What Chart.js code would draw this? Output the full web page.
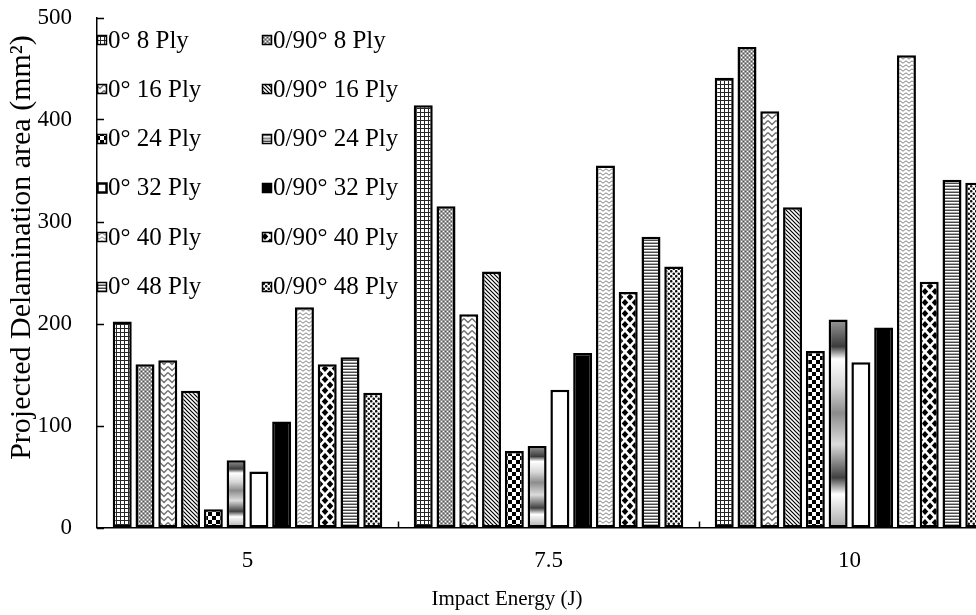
<!DOCTYPE html>
<html>
<head>
<meta charset="utf-8">
<title>Projected Delamination area vs Impact Energy</title>
<script src="https://cdn.jsdelivr.net/npm/chart.js@4.4.0/dist/chart.umd.min.js"></script>
<style>
  html, body { margin: 0; padding: 0; background: #fff; overflow: hidden; }
  #wrap { position: relative; width: 1004px; height: 615px; }
</style>
</head>
<body>
<div id="wrap"><canvas id="chart"></canvas></div>
<script>
'use strict';

// ── data ────────────────────────────────────────────────────────────────────
const energies = ['5', '7.5', '10'];

const seriesLabels = [
  '0° 8 Ply',  '0/90° 8 Ply',
  '0° 16 Ply', '0/90° 16 Ply',
  '0° 24 Ply', '0/90° 24 Ply',
  '0° 32 Ply', '0/90° 32 Ply',
  '0° 40 Ply', '0/90° 40 Ply',
  '0° 48 Ply', '0/90° 48 Ply',
];

// projected delamination area (mm²) at 5 / 7.5 / 10 J
const uni8     = [202, 414, 441];
const cross8   = [160, 315, 471];
const uni16    = [164, 209, 408];
const cross16  = [134, 251, 314];
const uni24    = [18, 75, 173];
const cross24  = [66, 80, 204];
const uni32    = [55, 135, 162];
const cross32  = [104, 171, 196];
const uni40    = [216, 355, 463];
const cross40  = [160, 231, 241];
const uni48    = [167, 285, 341];
const cross48  = [132, 256, 338];

const seriesValues = [uni8, cross8, uni16, cross16, uni24, cross24,
                      uni32, cross32, uni40, cross40, uni48, cross48];

const yTicks = { min: 0, max: 500, step: 100 };
const yTitle = 'Projected Delamination area (mm²)';
const xTitle = 'Impact Energy (J)';

// ── fill patterns (monochrome, Excel style) ────────────────────────────────
const canvas = document.getElementById('chart');
const c2d = canvas.getContext('2d');

function makePattern(w, h, draw) {
  const t = document.createElement('canvas');
  t.width = w; t.height = h;
  const g = t.getContext('2d');
  g.fillStyle = '#fff';
  g.fillRect(0, 0, w, h);
  draw(g);
  return c2d.createPattern(t, 'repeat');
}

const patGrid = makePattern(4, 4, g => {
  g.fillStyle = '#262626';
  g.fillRect(0, 0, 4, 1);
  g.fillRect(0, 0, 1, 4);
});

const patGray = makePattern(4, 4, g => {
  g.fillStyle = '#9c9c9c';
  g.fillRect(0, 0, 4, 4);
  g.fillStyle = '#fff';
  g.fillRect(1, 1, 1, 1); g.fillRect(3, 3, 1, 1);
  g.fillStyle = '#555';
  g.fillRect(1, 3, 1, 1); g.fillRect(3, 1, 1, 1);
});

const patZig = makePattern(8, 6, g => {
  g.strokeStyle = '#707070';
  g.lineWidth = 1.4;
  g.beginPath();
  g.moveTo(0, 0.5); g.lineTo(4, 4.5); g.lineTo(8, 0.5);
  g.stroke();
});

const patDiag = makePattern(4, 4, g => {
  g.strokeStyle = '#000';
  g.lineWidth = 1.2;
  g.beginPath();
  g.moveTo(-1, -1); g.lineTo(5, 5);
  g.moveTo(-1, 3); g.lineTo(1, 5);
  g.moveTo(3, -1); g.lineTo(5, 1);
  g.stroke();
});

const patChecker = makePattern(8, 8, g => {
  g.fillStyle = '#000';
  g.fillRect(0, 0, 4, 4);
  g.fillRect(4, 4, 4, 4);
});

const patWave = makePattern(6, 4, g => {
  g.strokeStyle = '#808080';
  g.lineWidth = 1;
  g.beginPath();
  g.moveTo(0, 0.8); g.lineTo(3, 3.2); g.lineTo(6, 0.8);
  g.stroke();
});

const patDiamond = makePattern(10, 11, g => {
  g.fillStyle = '#000';
  const dia = (cx, cy) => {
    g.beginPath();
    g.moveTo(cx, cy - 3.6); g.lineTo(cx + 3.3, cy);
    g.lineTo(cx, cy + 3.6); g.lineTo(cx - 3.3, cy);
    g.closePath(); g.fill();
  };
  dia(5, 5.5);
  dia(0, 0); dia(10, 0); dia(0, 11); dia(10, 11);
});

const patHLines = makePattern(1, 3, g => {
  g.fillStyle = '#4a4a4a';
  g.fillRect(0, 0, 1, 1);
  g.fillStyle = '#aaa';
  g.fillRect(0, 2, 1, 1);
});

const patDots = makePattern(5, 5, g => {
  g.fillStyle = '#111';
  g.beginPath();
  g.arc(1.25, 1.25, 1.3, 0, Math.PI * 2);
  g.arc(3.75, 3.75, 1.3, 0, Math.PI * 2);
  g.fill();
});

// banded metallic gradient, stretched over the height of each bar
const bandStops = [
  [0, '#9a9a9a'], [0.13, '#3c3c3c'], [0.19, '#ffffff'], [0.32, '#d8d8d8'],
  [0.45, '#8c8c8c'], [0.6, '#dcdcdc'], [0.76, '#404040'], [0.84, '#ffffff'],
  [1, '#a8a8a8'],
];
function bandGradient(ctx, top, bottom) {
  const gr = ctx.createLinearGradient(0, top, 0, bottom);
  bandStops.forEach(([o, c]) => gr.addColorStop(o, c));
  return gr;
}
function barGradient(context) {
  const chart = context.chart;
  if (!chart.chartArea || context.raw == null) return '#999';
  const y = chart.scales.y;
  return bandGradient(chart.ctx, y.getPixelForValue(context.raw), y.getPixelForValue(0));
}

const fills = [patGrid, patGray, patZig, patDiag, patChecker, barGradient,
               '#fff', '#000', patWave, patDiamond, patHLines, patDots];

const serif = '"Liberation Serif", "Times New Roman", serif';

// ── plugins: inside tick marks, axis titles, two-column legend ─────────────
const insideTicks = {
  id: 'insideTicks',
  afterDatasetsDraw(chart) {
    const { ctx, chartArea, scales: { x, y } } = chart;
    ctx.save();
    ctx.strokeStyle = '#000';
    ctx.lineWidth = 1.5;
    ctx.beginPath();
    y.ticks.forEach((t, i) => {
      const py = Math.round(y.getPixelForTick(i)) + 0.5;
      ctx.moveTo(chartArea.left, py);
      ctx.lineTo(chartArea.left + 7, py);
    });
    for (let i = 1; i < x.ticks.length; i++) {
      const px = Math.round((x.getPixelForTick(i - 1) + x.getPixelForTick(i)) / 2) + 0.5;
      ctx.moveTo(px, chartArea.bottom);
      ctx.lineTo(px, chartArea.bottom - 6);
    }
    ctx.stroke();
    ctx.restore();
  },
};

const axisTitles = {
  id: 'axisTitles',
  afterDraw(chart) {
    const { ctx, chartArea } = chart;
    ctx.save();
    ctx.fillStyle = '#000';
    ctx.textAlign = 'center';
    ctx.textBaseline = 'middle';

    ctx.font = '21px ' + serif;
    ctx.fillText(xTitle, chartArea.left + 410, chartArea.bottom + 72);

    ctx.translate(22, chartArea.top + 230);
    ctx.rotate(-Math.PI / 2);
    ctx.font = '30px ' + serif;
    ctx.fillText(yTitle, 0, 0);
    ctx.restore();
  },
};

const gridLegend = {
  id: 'gridLegend',
  afterDraw(chart) {
    const { ctx, chartArea } = chart;
    const colX = [chartArea.left, chartArea.left + 165];
    const rowY0 = chartArea.top + 22.5;
    const rowGap = 49.3;
    ctx.save();
    ctx.font = '25px ' + serif;
    ctx.textBaseline = 'middle';
    chart.data.datasets.forEach((ds, i) => {
      const bx = colX[i % 2];
      const cy = rowY0 + Math.floor(i / 2) * rowGap;
      const size = 10;
      const top = Math.round(cy - size / 2);
      const fill = fills[i];
      ctx.fillStyle = typeof fill === 'function' ? bandGradient(ctx, top, top + size) : fill;
      ctx.fillRect(bx, top, size, size);
      ctx.strokeStyle = '#000';
      ctx.lineWidth = i === 6 ? 2.5 : 1.5;
      ctx.strokeRect(bx + 0.5, top + 0.5, size - 1, size - 1);
      ctx.fillStyle = '#000';
      ctx.fillText(ds.label, bx + 11, cy + 1);
    });
    ctx.restore();
  },
};

// ── chart ───────────────────────────────────────────────────────────────────
Chart.defaults.color = '#000';
Chart.defaults.font.family = serif;

new Chart(c2d, {
  type: 'bar',
  data: {
    labels: energies,
    datasets: seriesLabels.map((label, i) => ({
      label,
      data: seriesValues[i],
      backgroundColor: fills[i],
      borderColor: '#000',
      borderWidth: 2.5,
      borderSkipped: false,
      categoryPercentage: 0.908,
      barPercentage: 0.834,
    })),
  },
  options: {
    responsive: true,
    maintainAspectRatio: false,
    animation: false,
    layout: { padding: { top: 17.5, right: 4, left: 0, bottom: 0 } },
    plugins: {
      legend: { display: false },
      tooltip: { enabled: false },
    },
    scales: {
      x: {
        grid: { display: false, drawTicks: false },
        border: { display: true, color: '#000', width: 1.5 },
        ticks: { font: { size: 23 }, padding: 20 },
        afterFit: s => { s.height = 87.5; },
      },
      y: {
        min: yTicks.min,
        max: yTicks.max,
        grid: { display: false, drawTicks: false },
        border: { display: true, color: '#000', width: 1.5 },
        ticks: { stepSize: yTicks.step, font: { size: 23 }, padding: 25 },
        afterFit: s => { s.width = 97; s.paddingTop = 0; s.paddingBottom = 0; },
      },
    },
  },
  plugins: [insideTicks, axisTitles, gridLegend],
});
</script>
</body>
</html>
